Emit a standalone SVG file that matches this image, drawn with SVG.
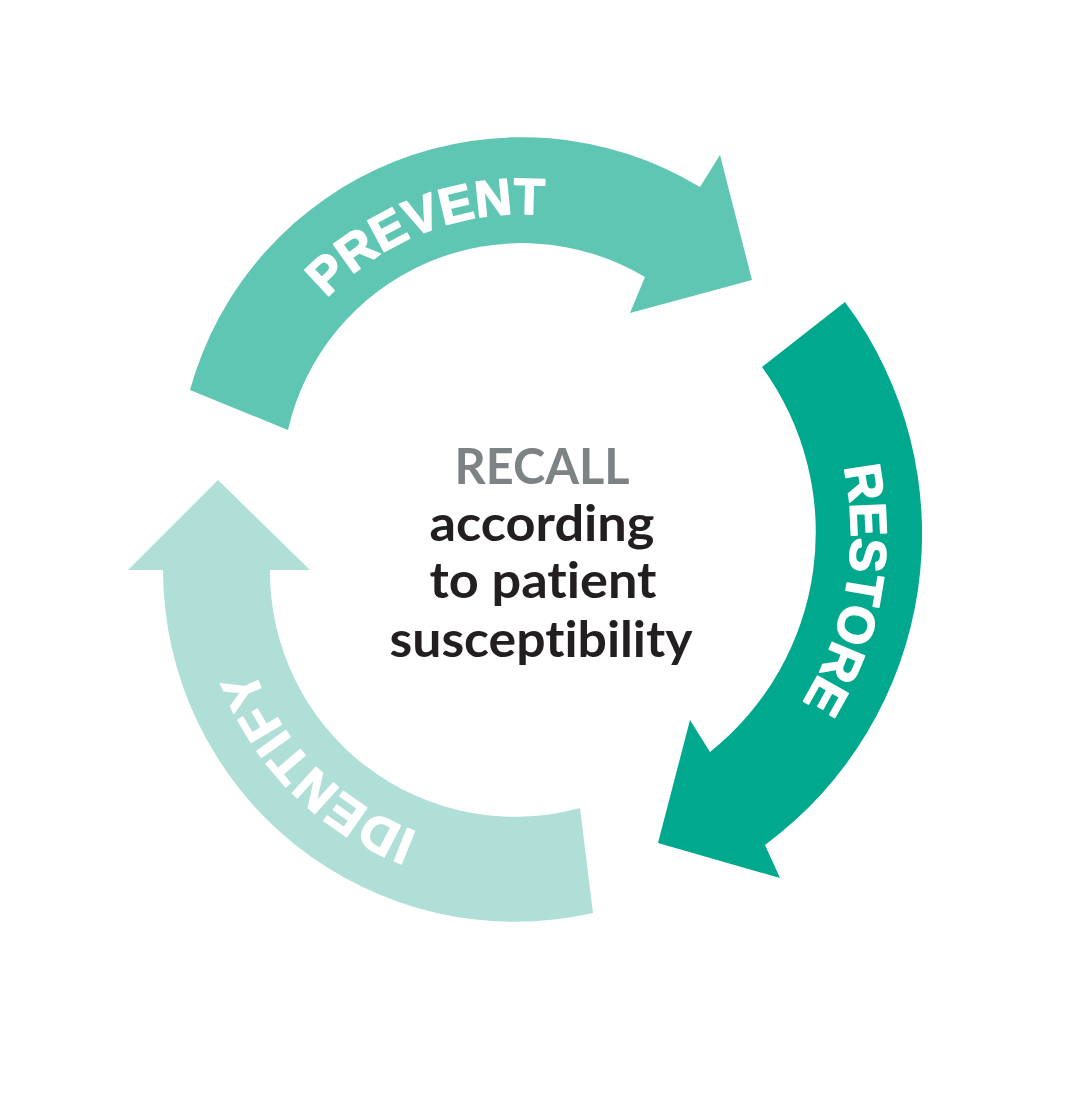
<svg xmlns="http://www.w3.org/2000/svg" width="1083" height="1096" viewBox="0 0 1083 1096">
  <style>
    .lbl { font-family: "Liberation Sans", "Noto Sans", sans-serif; font-weight: 700; fill: #ffffff; stroke: #ffffff; stroke-width: 1.6px; stroke-linejoin: round; font-size: 51px; }
    .ctr { font-family: "Lato", "Liberation Sans", sans-serif; font-weight: 700; font-size: 50px; text-anchor: middle; fill: #231f20; font-variant-ligatures: none; }
  </style>
  <defs>
    <path id="pPrevent" d="M268.6,394.7 A268,268 0 0 1 651.9,247.6"/>
    <path id="pRestore" d="M777.1,330.9 A316,316 0 0 1 693,807.7"/>
    <path id="pIdentify" d="M539.4,848.9 A280,280 0 0 1 236.1,545.6"/>
  </defs>
  <rect width="1083" height="1096" fill="#ffffff"/>
  <g id="prevent">
    <path d="M190,390 A344,344 0 0 1 700,187 L720,155 L752,280 L630,313 L645,277 A240,240 0 0 0 288,430 Z" fill="#5fc6b4"/>
    <text class="lbl"><textPath href="#pPrevent" startOffset="50%" text-anchor="middle">PREVENT</textPath></text>
  </g>
  <g id="restore">
    <path d="M845,302 A387,387 0 0 1 765,845 L780,878 L658,843 L690,720 L710,752 A281,281 0 0 0 762,367 Z" fill="#00a88e"/>
    <text class="lbl"><textPath href="#pRestore" startOffset="50%" text-anchor="middle">RESTORE</textPath></text>
  </g>
  <g id="identify">
    <path d="M593,913 A352,352 0 0 1 163,570 L128,570 L218,480 L310,570 L270,570 A245,245 0 0 0 580,808 Z" fill="#b0dfd7"/>
    <text class="lbl"><textPath href="#pIdentify" startOffset="50%" text-anchor="middle" letter-spacing="1">IDENTIFY</textPath></text>
  </g>
  <g id="recall">
    <text class="ctr" x="542" y="484" style="fill:#7d8285" textLength="175" lengthAdjust="spacingAndGlyphs">RECALL</text>
    <text class="ctr" x="542" y="541" textLength="225" lengthAdjust="spacingAndGlyphs">according</text>
    <text class="ctr" x="543" y="598" textLength="227" lengthAdjust="spacingAndGlyphs">to patient</text>
    <text class="ctr" x="541" y="657" textLength="303" lengthAdjust="spacingAndGlyphs">susceptibility</text>
  </g>
  <g id="connectors"/>
</svg>
